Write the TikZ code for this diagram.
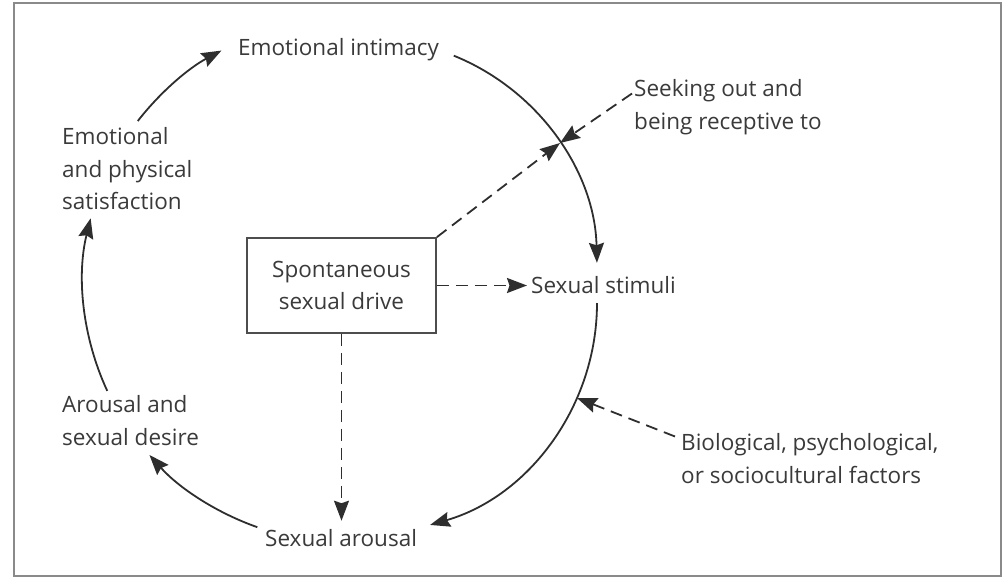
\documentclass[tikz,border=0pt]{standalone}
\usepackage{fontspec}
\setmainfont{Open Sans}
\usetikzlibrary{arrows.meta,calc}
\definecolor{ink}{HTML}{2E2E2E}
\definecolor{txt}{HTML}{3A3A3A}
\definecolor{framec}{HTML}{8A8A8A}
\begin{document}
\begin{tikzpicture}[x=1pt,y=-1pt,
  lbl/.style={font=\fontsize{22.5}{32.5}\selectfont, text=txt, inner sep=0pt, align=left},
  cyc/.style={draw=ink, line width=1.8pt, -{Stealth[length=20pt,width=15pt,inset=2.5pt]}},
  dsh/.style={cyc, dash pattern=on 12pt off 7pt},
  boxst/.style={draw=ink!85, line width=1.8pt, minimum width=189pt, minimum height=95pt, lbl, align=center}]
\useasboundingbox (0,0) rectangle (1003,579);
\draw[framec, line width=2.4pt] (14,3) rectangle (1001,576);

\node[lbl, anchor=base west] (ei) at (238,55) {Emotional intimacy};
\node[lbl, anchor=north west] (sat) at (62,127.5) {Emotional\\and physical\\satisfaction};
\node[boxst] (drive) at (341.5,285.5) {Spontaneous\\sexual drive};
\node[lbl, anchor=base west] (stim) at (531,293) {Sexual stimuli};
\node[lbl, anchor=north west] (seek) at (634,79.5) {Seeking out and\\being receptive to};
\node[lbl, anchor=north west] (bio) at (681,433.5) {Biological, psychological,\\or sociocultural factors};
\node[lbl, anchor=north west] (ard) at (62,395.5) {Arousal and\\sexual desire};
\node[lbl, anchor=base west] (sar) at (265,546) {Sexual arousal};

\coordinate (R1) at (368,268);
\coordinate (R2) at (366,303);
\coordinate (L) at (344,281);
\coordinate (a1) at ($(R1)+(-68:229)$);
\coordinate (a2) at ($(R2)+(0:231)$);
\coordinate (a3) at ($(L)+(109.4:261)$);
\coordinate (a4) at ($(L)+(155.1:261)$);
\coordinate (a5) at ($(L)+(217.8:261)$);

\draw[cyc] (a1) arc[start angle=-68, end angle=-1.3, radius=229];
\draw[cyc] (a2) arc[start angle=0, end angle=73.9, radius=231];
\draw[cyc] (a3) arc[start angle=109.4, end angle=138.2, radius=261];
\draw[cyc] (a4) arc[start angle=155.1, end angle=193.9, radius=261];
\draw[cyc] (a5) arc[start angle=217.8, end angle=242, radius=261];

\coordinate (P) at (560,143);
\coordinate (Q) at (577,398);
\draw[dsh] (drive.north east) -- (P);
\draw[dsh] ($(seek.north west)+(-2,14)$) -- (P);
\draw[dsh, shorten >=4pt] (drive.east) -- (drive.east -| stim.west);
\draw[dsh, shorten >=8pt] (drive.south) -- (drive.south |- sar.north);
\draw[dsh] ($(bio.north west)+(-6,3)$) -- (Q);
\end{tikzpicture}
\end{document}
